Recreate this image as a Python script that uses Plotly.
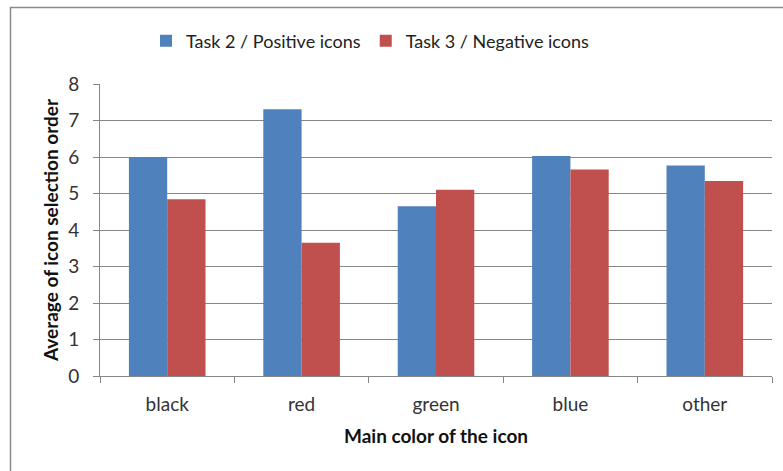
import plotly.graph_objects as go

# Categories and series values
colors = ["black", "red", "green", "blue", "other"]
task2_positive = [6.00, 7.31, 4.65, 6.03, 5.77]
task3_negative = [4.84, 3.65, 5.10, 5.66, 5.34]
y_ticks = [0, 1, 2, 3, 4, 5, 6, 7, 8]

FONT = "Lato, 'Open Sans', sans-serif"
GRID = "#868686"

fig = go.Figure()
fig.add_trace(go.Bar(name="Task 2 / Positive icons", x=colors, y=task2_positive,
                     marker=dict(color="#4F81BD", line=dict(width=0))))
fig.add_trace(go.Bar(name="Task 3 / Negative icons", x=colors, y=task3_negative,
                     marker=dict(color="#C0504D", line=dict(width=0))))

L, R, T, B = 100, 11, 84, 95
W, H = 783, 471
pw, ph = W - L - R, H - T - B

def px_x(x):
    return (x - L) / pw

def px_y(y):
    return (H - B - y) / ph

fig.update_layout(
    width=W, height=H,
    margin=dict(l=L, r=R, t=T, b=B, pad=0),
    paper_bgcolor="white", plot_bgcolor="white",
    barmode="group", bargap=0.43, bargroupgap=0,
    font=dict(family=FONT, size=19, color="#333333"),
    showlegend=True,
    legend=dict(orientation="h", x=px_x(146), y=px_y(41), xanchor="left", yanchor="middle",
                font=dict(size=18, color="#222222"), itemwidth=30, traceorder="normal",
                bgcolor="rgba(0,0,0,0)"),
    xaxis=dict(
        showline=True, linecolor=GRID, linewidth=1,
        ticks="outside", tickson="boundaries", ticklen=6, tickcolor=GRID,
        showgrid=False,
        tickfont=dict(size=19, color="#333333"),
        ticklabelstandoff=11,
        title=dict(text="<b>Main color of the icon</b>", font=dict(size=19, color="#111111"), standoff=15),
    ),
    yaxis=dict(
        range=[0, 8], tickvals=y_ticks,
        showline=True, linecolor=GRID, linewidth=1,
        ticks="outside", ticklen=6, tickcolor=GRID,
        showgrid=True, gridcolor=GRID, gridwidth=1,
        zeroline=False,
        tickfont=dict(size=19, color="#333333"),
        ticklabelstandoff=10,
        title=dict(text="<b>Average of icon selection order</b>", font=dict(size=19, color="#111111"), standoff=4),
    ),
)

# Outer chart frame
fig.add_shape(type="rect", xref="paper", yref="paper",
              x0=px_x(10.5), x1=px_x(795), y0=px_y(485), y1=px_y(7.5),
              line=dict(color="#8a8a8a", width=1.5), fillcolor="rgba(0,0,0,0)", layer="below")

fig.write_html("out.html")
